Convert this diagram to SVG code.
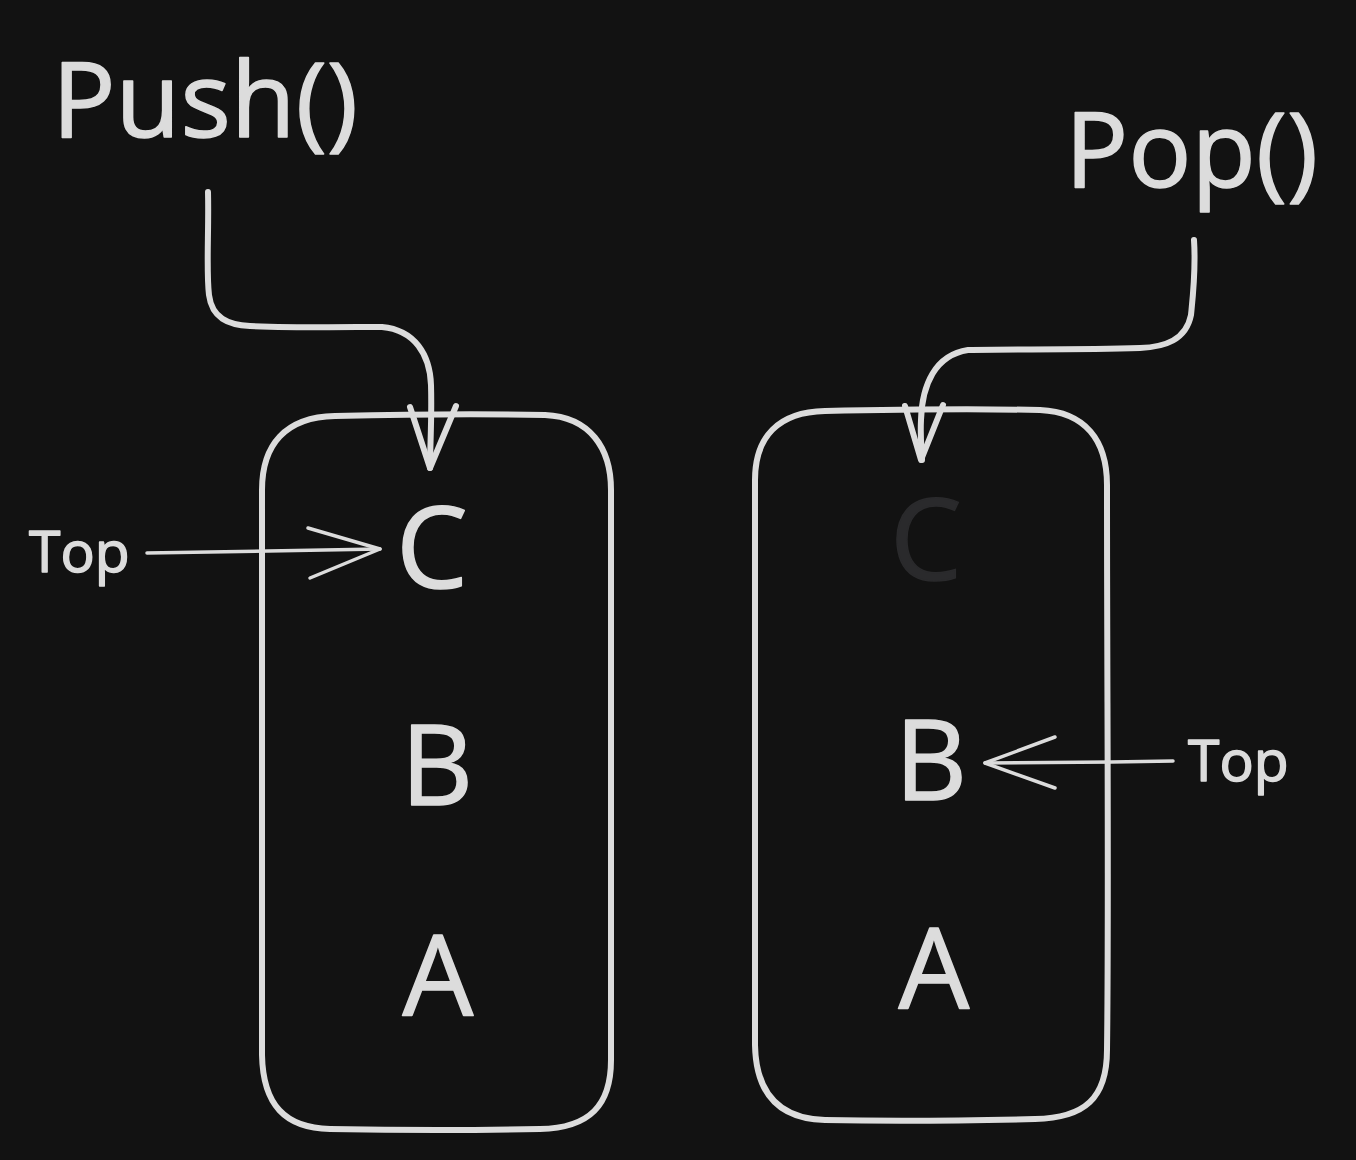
<svg xmlns="http://www.w3.org/2000/svg" width="1356" height="1160" viewBox="0 0 1356 1160">
<style>
.ln{fill:none;stroke:#dcdcdc;stroke-width:6;stroke-linecap:round;stroke-linejoin:round}
.thin{fill:none;stroke:#dcdcdc;stroke-width:3.5;stroke-linecap:round;stroke-linejoin:round}
.t{font-family:"Open Sans","Noto Sans",sans-serif;fill:#dcdcdc;stroke:#dcdcdc;stroke-width:1.5;stroke-linejoin:round}
</style>
<rect width="1356" height="1160" fill="#121212"/>
<g id="push-label"><text class="t" x="52" y="137" font-size="104" textLength="306" lengthAdjust="spacingAndGlyphs">Push()</text></g>
<g id="pop-label"><text class="t" x="1065" y="187" font-size="104" textLength="253" lengthAdjust="spacingAndGlyphs">Pop()</text></g>
<g id="stack-left">
<path class="ln" d="M335,416 C420,414 500,414 545,415 C590,417 611,448 611,490 C611,700 612,900 611,1060 C611,1105 590,1128 540,1129 C450,1131 380,1130 330,1129 C285,1128 263,1105 262,1055 C261,880 262,700 262,490 C262,445 285,417 335,416 Z"/>
<text class="t" x="432" y="588" font-size="114" text-anchor="middle">C</text>
<text class="t" x="437" y="805" font-size="112" text-anchor="middle">B</text>
<text class="t" x="438" y="1015" font-size="112" text-anchor="middle">A</text>
</g>
<g id="stack-right">
<path class="ln" d="M825,411 C920,409 990,409 1040,410 C1085,412 1107,440 1107,485 C1107,700 1109,900 1107,1050 C1107,1098 1085,1118 1035,1119 C950,1121 880,1121 825,1120 C780,1119 756,1095 755,1045 C754,880 755,700 755,480 C755,437 778,412 825,411 Z"/>
<text x="926" y="580" font-size="114" text-anchor="middle" font-family="Open Sans, Noto Sans, sans-serif" fill="#2a2a2c" stroke="#2a2a2c" stroke-width="1.5">C</text>
<text class="t" x="931" y="800" font-size="112" text-anchor="middle">B</text>
<text class="t" x="934" y="1008" font-size="112" text-anchor="middle">A</text>
</g>
<g id="top-left"><text class="t" x="29" y="572" font-size="57" stroke-width="0.8">Top</text></g>
<g id="top-right"><text class="t" x="1188" y="781" font-size="57" stroke-width="0.8">Top</text></g>
<g id="connectors">
<path class="ln" d="M208,192 C209,230 206,270 209,295 C212,318 228,325 250,326 C300,328 350,327 382,327 C415,330 430,355 431,385 C432,420 430,445 430,468"/>
<path class="ln" d="M410,407 L430,468 L456,406"/>
<path class="ln" d="M1194,240 C1196,270 1193,295 1191,315 C1186,340 1165,347 1140,348 C1080,350 1010,349 968,350 C935,355 922,385 921,420 C920,440 922,450 922,460"/>
<path class="ln" d="M905,406 L921,460 L943,405"/>
<path class="thin" d="M147,553 C230,552 310,550 380,549"/>
<path class="thin" d="M308,528 L380,549 L310,578"/>
<path class="thin" d="M1173,761 C1110,762 1040,763 985,763"/>
<path class="thin" d="M1055,737 L985,763 L1055,788"/>
</g>
</svg>
